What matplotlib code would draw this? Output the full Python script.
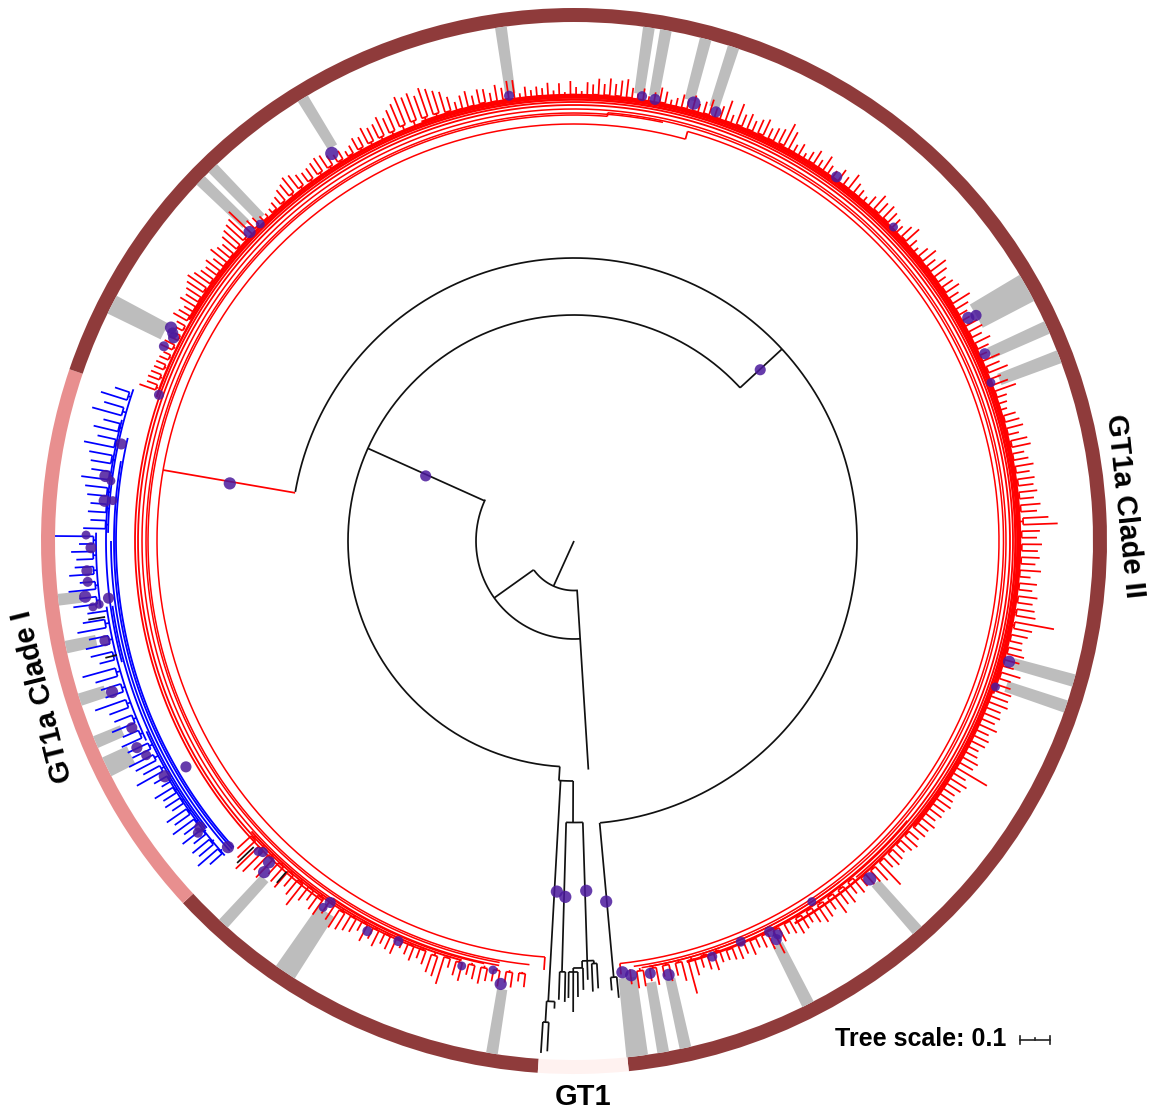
import numpy as np
import matplotlib
matplotlib.use('Agg')
import matplotlib.pyplot as plt

plt.rcParams['font.family'] = ['Liberation Sans', 'DejaVu Sans']

RED = '#ff0000'
BLUE = '#0000ff'
BLACK = '#111111'

# ring segments: start angle, end angle (degrees clockwise from north)
ring_a0 = [183.9, 227.2, 288.8, 0, 174.1]
ring_a1 = [227.2, 288.8, 360, 174.1, 183.9]
ring_c = ['#8f3b3b', '#e88f8f', '#8f3b3b', '#8f3b3b', '#fff2f0']
ring_inner, ring_outer = 519, 533

# grey bars: angle, width, inner radius
bar_angle = [351.9, 8.3, 10.2, 14.7, 17.9, 60.8, 65.7, 69.2, 105.6, 108.6, 138.6, 153.2,
             167.6, 170.1, 173.0, 189.1, 213.8, 222.5, 244.2, 247.2, 252.2, 258.2, 263.5,
             297.1, 314.0, 315.9, 328.5]
bar_width = [1.3, 1.3, 1.3, 1.3, 1.3, 3.3, 1.5, 1.5, 1.4, 1.4, 1.3, 1.4,
             1.3, 1.3, 2.4, 1.3, 2.5, 1.3, 2.3, 1.4, 1.4, 1.4, 1.3,
             2.2, 1.3, 1.3, 1.3]
bar_r0 = [452, 452, 452, 456, 456, 461, 456, 455, 456, 456, 456, 452,
          448, 448, 440, 454, 446, 458, 492, 490, 492, 488, 496,
          460, 456, 450, 462]

# leaf sectors: start angle, end angle, radius of the stem base, leaf tip radii
sector_start = [-70.5, -46, -8, 15, 35, 60, 90, 110, 140, 160, 186]
sector_end = [-46, -8, 15, 35, 60, 90, 110, 140, 160, 173, 228]
sector_base = [443, 445, 445, 445, 445, 445, 445, 441, 435, 432, 434]
tips_ul1 = [462, 456, 457, 456, 455, 455, 454, 452, 458, 456, 453, 450, 452, 454, 461, 458, 455, 463,
            460, 463, 466, 469, 465, 461, 459, 463, 458, 466, 462, 460, 465, 468, 470, 472, 477]
tips_ul2 = [458, 456, 452, 450, 451, 454, 456, 460, 462, 466, 464, 460, 458, 459, 461, 463, 462, 458,
            455, 456, 452, 455, 460, 458, 465, 462, 463, 468, 464, 470, 474, 479, 476, 478, 473, 479,
            476, 472, 469, 462, 455, 460, 463, 457, 462, 461, 456, 463, 459, 465]
tips_top = [465, 451, 457, 453, 456, 454, 459, 451, 458, 449, 460, 454, 450, 459, 457, 463, 458, 464,
            459, 463, 465, 457, 452, 458, 451, 456, 462, 459, 452, 455, 460, 456]
tips_ur1 = [462, 455, 459, 463, 456, 460, 468, 455, 469, 460, 463, 458, 462, 465, 458, 461, 463, 472,
            466, 455, 459, 452, 457, 462, 455, 463, 456]
tips_ur2 = [454, 460, 456, 464, 458, 455, 452, 458, 465, 461, 463, 460, 458, 455, 461, 465, 456, 452,
            459, 464, 458, 466, 462, 456, 460, 463, 458, 467, 461, 456]
tips_r1 = [455, 460, 462, 458, 464, 459, 454, 465, 462, 468, 458, 463, 469, 457, 455, 453, 460, 462,
           464, 458, 465, 467, 459, 462, 466, 461, 465, 463, 466, 462, 468, 464, 475, 484, 466, 463]
tips_r2 = [468, 464, 466, 462, 468, 458, 465, 461, 467, 463, 466, 468, 488, 467, 464, 460, 461, 465,
           462, 458, 467, 459, 461, 464]
tips_lr1 = [463, 465, 460, 462, 459, 464, 458, 461, 460, 456, 458, 462, 460, 480, 459, 464, 461, 458,
            460, 462, 459, 460, 457, 461, 458, 459, 456, 460, 458, 454, 457, 459, 456, 474, 462, 458, 456, 453]
tips_lr2 = [456, 452, 458, 455, 461, 452, 456, 458, 454, 450, 453, 455, 451, 448, 453, 463, 455, 450,
            447, 452, 448, 451, 449, 447]
tips_lr3 = [447, 453, 450, 446, 452, 469, 454, 447, 451, 445, 452, 447, 451, 452, 447]
tips_ll = [449, 444, 451, 447, 452, 448, 449, 453, 450, 447, 455, 451, 445, 464, 458, 456, 450, 446,
           451, 447, 443, 452, 450, 447, 453, 448, 454, 446, 451, 453, 456, 458, 453, 450, 456, 454,
           448, 453, 464, 456, 451, 458, 456, 452, 463, 459, 468, 471, 462, 456]
sector_tips = [tips_ul1, tips_ul2, tips_top, tips_ur1, tips_ur2, tips_r1, tips_r2, tips_lr1, tips_lr2,
               tips_lr3, tips_ll]

# blue clade sectors
blue_start = [228, 245, 262, 271]
blue_end = [245, 262, 271, 289]
blue_base = [468, 472, 478, 466]
tips_b1 = [487, 497, 490, 493, 486, 495, 488, 497, 490, 495, 484, 488, 486, 492, 480, 485, 501, 490,
           495, 499, 492, 494]
tips_b2 = [497, 492, 500, 494, 496, 508, 494, 496, 499, 510, 490, 497, 500, 495, 505, 498, 492]
tips_b3 = [505, 498, 508, 496, 506, 500, 498, 503, 495, 519]
tips_b4 = [491, 484, 487, 485, 489, 492, 497, 488, 490, 493, 500, 488, 494, 486, 500, 490, 496, 484]
blue_tips = [tips_b1, tips_b2, tips_b3, tips_b4]

# long arcs: radius, start, end
red_arcs = [(417, 184, 375.5), (425, 15.5, 173.8), (429.5, 4.5, 172), (426, 186, 364.5), (428, 190, 372),
            (432, 192, 530), (436, 200, 525), (439, 215, 500), (441.5, 289, 510), (444, 300, 490),
            (446, 340, 470), (432, 142, 171), (435, 130, 165), (431, 190, 214), (434, 195, 228)]
red_arc_lw = [1.1, 1.1, 1.1, 1.1, 1.1, 1.1, 1.3, 1.3, 1.8, 2.4, 1.8, 1.1, 1.2, 1.2, 1.4]
red_radials = [(279.8, 283, 417), (15.5, 417, 425), (184, 417, 430), (4.5, 426, 429.5), (173.8, 425, 436)]
blue_arcs = [(458, 228, 283), (460, 228, 280), (463, 228, 270), (466, 232, 262), (468, 232, 246),
             (472, 245, 262), (478, 262, 271), (466, 271, 289), (470, 228, 240), (468, 255, 285)]
black_arcs = [(49.5, 175.5, 234), (98, 176.4, 295), (226, 183.6, 407.3), (283, 280, 534.7),
              (240, 180.2, 183.6), (281.5, 178.2, 181.6), (438, 174.4, 175.2), (461, 182.4, 183.4),
              (482, 183.0, 183.7), (431, 181.15, 181.9), (420, 177.3, 178.9), (423, 176.9, 177.6),
              (427, 178.8, 180.1), (431, 179.5, 180.7)]
black_radials = [(204.4, 0, 49.5), (234.5, 49.5, 98), (176.4, 49.5, 229), (294.2, 98, 226), (47.3, 226, 283),
                 (174.8, 283, 438), (175.2, 438, 451), (174.4, 438, 459), (183.6, 226, 240), (183.2, 240, 461),
                 (182.4, 461, 468), (183.4, 461, 482), (183.7, 482, 513), (183.0, 482, 511),
                 (180.2, 240, 281.5), (181.6, 281.5, 431), (181.9, 431, 459), (181.15, 431, 461),
                 (178.2, 281.5, 420), (177.3, 420, 423), (177.6, 423, 451), (176.9, 423, 448),
                 (178.2, 420, 439), (178.9, 420, 427), (178.8, 427, 449), (180.1, 427, 431),
                 (179.5, 431, 456), (180.7, 431, 457), (180.1, 431, 471),
                 (226.3, 443, 466), (221, 438, 453), (260.8, 475, 492), (256, 471, 483)]

# purple nodes: angle, radius, diameter in px
dot_angle = [279.5, 293.7, 47.4, 182.8, 181.4, 178, 174.9, 173.6, 172.5, 170, 167.7, 161.6, 157.4, 153.4,
             152.6, 153.1, 146.6, 138.8, 109.1, 105.5, 69.2, 65.5, 60.5, 60.7, 45.5, 35.8, 18.3, 15.3,
             10.4, 8.7, 351.7, 328, 315.3, 313.6, 297.9, 297.4, 296.9, 295.4, 289.4,
             282.1, 277.9, 277.4, 274.9, 275, 270.7, 269.2, 266.5, 265.2, 263.5, 263, 262.2, 262.4, 258,
             251.9, 247.1, 244.7, 243.4, 239.8, 240.1, 232.6, 232.2, 228.5, 225.5, 225, 223.5, 223.1,
             214, 214.4, 207.9, 203.7, 194.8, 190.7, 189.4]
dot_r = [349, 162, 253, 351, 356, 350, 362, 434, 438, 439, 444, 438, 434, 437,
         443, 447, 432, 449, 446, 451.5, 446, 451.5, 453, 461, 448, 449, 452, 454,
         449, 450, 450, 457, 446, 448, 456, 452, 449, 454, 440,
         463, 473, 467, 471, 463, 488, 483, 488, 488, 492, 469, 485.5, 479, 479.5,
         486, 480, 483.5, 478.5, 449, 472, 471, 476, 462, 443, 440, 443, 453.5,
         436, 444, 441.5, 437, 439.5, 436.6, 449]
dot_size = [11, 10, 10, 11, 11, 11, 11, 11, 11, 10, 11, 9, 9, 10,
            9, 10, 8, 12, 8, 11, 8, 10, 11, 10, 8, 10, 10, 12,
            10, 9, 9, 12, 8, 11, 11, 10, 10, 9, 9,
            10, 11, 8, 11, 8, 8, 10, 10, 9, 11, 10, 8, 8, 10,
            11, 10, 10, 9, 10, 11, 10, 9, 11, 8, 9, 11, 11,
            10, 8, 9, 9, 8, 8, 11]

# scale bar
scale_x = [1020, 1050]
scale_y = 1040


def radial(ax, a, r0, r1, color, lw=1.25):
    ax.plot(np.radians([a, a]), [r0, r1], color=color, lw=lw, solid_capstyle='butt')


def arc(ax, r, a0, a1, color, lw=1.25):
    t = np.radians(np.linspace(a0, a1, max(4, int(abs(a1 - a0) * 2))))
    ax.plot(t, np.full(len(t), r), color=color, lw=lw, solid_capstyle='butt')


def draw_leaves(ax, a0, a1, base, tips, color):
    # leaves sit at even angular steps, joined two by two
    angles = a0 + (np.arange(len(tips)) + 0.5) * (a1 - a0) / len(tips)
    for i in range(0, len(tips) - 1, 2):
        t1, t2 = tips[i], tips[i + 1]
        node = base + 0.15 * (min(t1, t2) - base)
        mid = (angles[i] + angles[i + 1]) / 2
        radial(ax, mid, base, node, color)
        arc(ax, node, angles[i], angles[i + 1], color)
        radial(ax, angles[i], node, t1, color)
        radial(ax, angles[i + 1], node, t2, color)
    if len(tips) % 2:
        radial(ax, angles[-1], base, tips[-1], color)


fig = plt.figure(figsize=(11.58, 11.09), dpi=100)
cx, cy, rmax = 574, 541, 560
ax = fig.add_axes([(cx - rmax) / 1158, (1109 - cy - rmax) / 1109, 2 * rmax / 1158, 2 * rmax / 1109],
                  projection='polar')
ax.set_theta_zero_location('N')
ax.set_theta_direction(-1)
ax.set_ylim(0, rmax)
ax.axis('off')

# outer ring
for a0, a1, c in zip(ring_a0, ring_a1, ring_c):
    ax.bar(np.radians((a0 + a1) / 2), ring_outer - ring_inner, width=np.radians(a1 - a0), bottom=ring_inner,
           color=c, linewidth=0)

for a, w, r0 in zip(bar_angle, bar_width, bar_r0):
    ax.bar(np.radians(a), ring_inner - r0, width=np.radians(w), bottom=r0, color='#bdbdbd', linewidth=0)

for (r, a0, a1), lw in zip(red_arcs, red_arc_lw):
    arc(ax, r, a0, a1, RED, lw)
for a, r0, r1 in red_radials:
    radial(ax, a, r0, r1, RED)
for a0, a1, base, tips in zip(sector_start, sector_end, sector_base, sector_tips):
    draw_leaves(ax, a0, a1, base, tips, RED)

for r, a0, a1 in blue_arcs:
    arc(ax, r, a0, a1, BLUE, 1.3)
for a0, a1, base, tips in zip(blue_start, blue_end, blue_base, blue_tips):
    draw_leaves(ax, a0, a1, base, tips, BLUE)

for r, a0, a1 in black_arcs:
    arc(ax, r, a0, a1, BLACK)
for a, r0, r1 in black_radials:
    radial(ax, a, r0, r1, BLACK)

ax.scatter(np.radians(dot_angle), dot_r, s=(np.array(dot_size) * 0.8) ** 2, color='#4b1a9c', alpha=0.85,
           linewidths=0, zorder=5)

# overlay in pixel units for the labels
ov = fig.add_axes([0, 0, 1, 1], facecolor='none')
ov.set_xlim(0, 1158)
ov.set_ylim(1109, 0)
ov.axis('off')
ov.text(1125, 506, 'GT1a Clade II', rotation=-84, ha='center', va='center', fontsize=21, fontweight='bold',
        rotation_mode='anchor')
ov.text(43, 696, 'GT1a Clade I', rotation=104, ha='center', va='center', fontsize=21, fontweight='bold',
        rotation_mode='anchor')
ov.text(583, 1097, 'GT1', ha='center', va='center', fontsize=21, fontweight='bold')
ov.text(921, 1039, 'Tree scale: 0.1', ha='center', va='center', fontsize=18, fontweight='bold')
ov.plot(scale_x, [scale_y, scale_y], color='#222222', lw=1.2)
for x, h in zip([scale_x[0], sum(scale_x) / 2, scale_x[1]], [4, 2, 4]):
    ov.plot([x, x], [scale_y - h, scale_y + (h if h == 4 else 0)], color='#222222', lw=1.2)

fig.savefig('out.png', dpi=100, facecolor='white')
